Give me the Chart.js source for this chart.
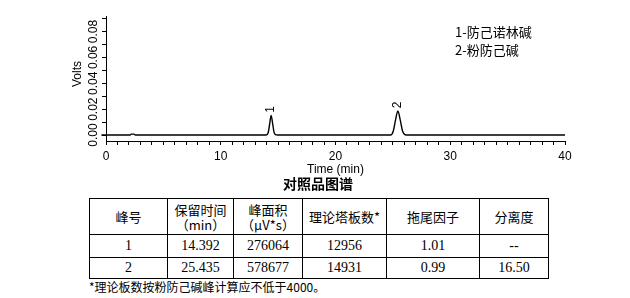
<!DOCTYPE html>
<html>
<head>
<meta charset="utf-8">
<script src="https://cdn.jsdelivr.net/npm/chart.js@4.4.1/dist/chart.umd.min.js"></script>
<style>
  body { margin: 0; background: #fff; width: 630px; height: 298px; position: relative; overflow: hidden; }
  #wrap { position: absolute; left: 0; top: 0; width: 630px; height: 178px; }
  .legend { position: absolute; left: 455px; font: 13px "Noto Sans CJK SC", sans-serif; color: #000; line-height: 18px; }
  #title { position: absolute; left: 0; width: 636px; top: 174px; text-align: center; font: bold 14px "Noto Sans CJK SC", sans-serif; line-height: 18px; }
  table { position: absolute; left: 89px; top: 198px; border-collapse: collapse; }
  td { border: 1px solid #000; padding: 0; text-align: center; font: 14px "Liberation Serif", serif; color: #000; }
  tr.head td { font: 13px "Noto Sans CJK SC", sans-serif; line-height: 15px; }
  #note { position: absolute; left: 89px; top: 279px; font: 12px "Noto Sans CJK SC", sans-serif; line-height: 16px; }
</style>
</head>
<body>
<div id="wrap"><canvas id="myChart" width="630" height="178"></canvas></div>
<div class="legend" style="top:23px">1-防己诺林碱</div>
<div class="legend" style="top:41px">2-粉防己碱</div>
<div id="title">对照品图谱</div>
<table>
  <tr class="head" style="height:36px">
    <td style="width:77px">峰号</td>
    <td style="width:65px">保留时间<br>（min）</td>
    <td style="width:68px">峰面积<br>（μV*s）</td>
    <td style="width:83px">理论塔板数*</td>
    <td style="width:92px">拖尾因子</td>
    <td style="width:68px">分离度</td>
  </tr>
  <tr style="height:23px"><td>1</td><td>14.392</td><td>276064</td><td>12956</td><td>1.01</td><td>--</td></tr>
  <tr style="height:21px"><td>2</td><td>25.435</td><td>578677</td><td>14931</td><td>0.99</td><td>16.50</td></tr>
</table>
<div id="note">*理论板数按粉防己碱峰计算应不低于4000。</div>
<script>
  // chromatogram (min, Volts)
  const times = [-0.4, 2.1, 2.2, 2.45, 2.55, 13.95, 14.14, 14.27, 14.392, 14.52, 14.64, 14.78, 14.95,
                 24.8, 25.03, 25.23, 25.435, 25.64, 25.84, 26.05, 26.3, 40];
  const volts = [0, 0, 0.0007, 0.0007, 0, 0, 0.002, 0.009, 0.0152, 0.009, 0.0022, 0.0003, 0,
                 0, 0.003, 0.0115, 0.0187, 0.0117, 0.0031, 0.0004, 0, 0];
  const peaks = [{ t: 14.392, v: 0.0152, label: '1' }, { t: 25.435, v: 0.0187, label: '2' }];
  const yTicks = [0, 0.01, 0.02, 0.03, 0.04, 0.05, 0.06, 0.07, 0.08, 0.09];
  const yLabels = [0, 0.02, 0.04, 0.06, 0.08];
  const xTicks = [];
  for (let i = 0; i <= 40; i++) xTicks.push(i);

  const ctx = document.getElementById('myChart');

  const extras = {
    id: 'extras',
    afterDraw(chart) {
      const c = chart.ctx, y = chart.scales.y, x = chart.scales.x;
      c.save();
      c.fillStyle = '#000';
      c.font = '12px "Liberation Sans", Arial, sans-serif';
      c.textAlign = 'center';
      c.textBaseline = 'middle';
      const rot = (txt, px, py) => {
        c.save(); c.translate(px, py); c.rotate(-Math.PI / 2); c.fillText(txt, 0, 0); c.restore();
      };
      yLabels.forEach(v => rot(v.toFixed(2), 94, y.getPixelForValue(v)));
      rot('Volts', 78, 74);
      peaks.forEach(p => rot(p.label, x.getPixelForValue(p.t), y.getPixelForValue(p.v) - 6));
      c.restore();
    }
  };

  new Chart(ctx, {
    type: 'scatter',
    data: {
      datasets: [{
        data: times.map((t, i) => ({ x: t, y: volts[i] })),
        showLine: true,
        borderColor: '#000',
        borderWidth: 1.4,
        pointRadius: 0,
        cubicInterpolationMode: 'monotone',
        clip: false
      }]
    },
    options: {
      responsive: false,
      animation: false,
      layout: { padding: { left: 0, right: 65, top: 16, bottom: 0 } },
      plugins: { legend: { display: false }, tooltip: { enabled: false } },
      scales: {
        x: {
          type: 'linear',
          min: 0,
          max: 40,
          afterBuildTicks: s => { s.ticks = xTicks.map(v => ({ value: v })); },
          afterFit: s => { s.height = 178 - 141; },
          grid: { drawOnChartArea: false, color: '#000', tickLength: 4 },
          border: { color: '#000', width: 1 },
          ticks: {
            autoSkip: false,
            maxRotation: 0,
            padding: 4,
            color: '#000',
            font: { family: '"Liberation Sans", Arial, sans-serif', size: 12 },
            callback: v => (v % 10 === 0 ? String(v) : '')
          },
          title: {
            display: true,
            text: 'Time (min)',
            color: '#000',
            padding: { top: 0, bottom: 1 },
            font: { family: '"Liberation Sans", Arial, sans-serif', size: 12 }
          }
        },
        y: {
          min: -0.0046,
          max: 0.092,
          afterBuildTicks: s => { s.ticks = yTicks.map(v => ({ value: v })); },
          afterFit: s => { s.width = 106; },
          grid: { drawOnChartArea: false, color: '#000', tickLength: 4 },
          border: { color: '#000', width: 1 },
          ticks: { display: false }
        }
      }
    },
    plugins: [extras]
  });
</script>
</body>
</html>
